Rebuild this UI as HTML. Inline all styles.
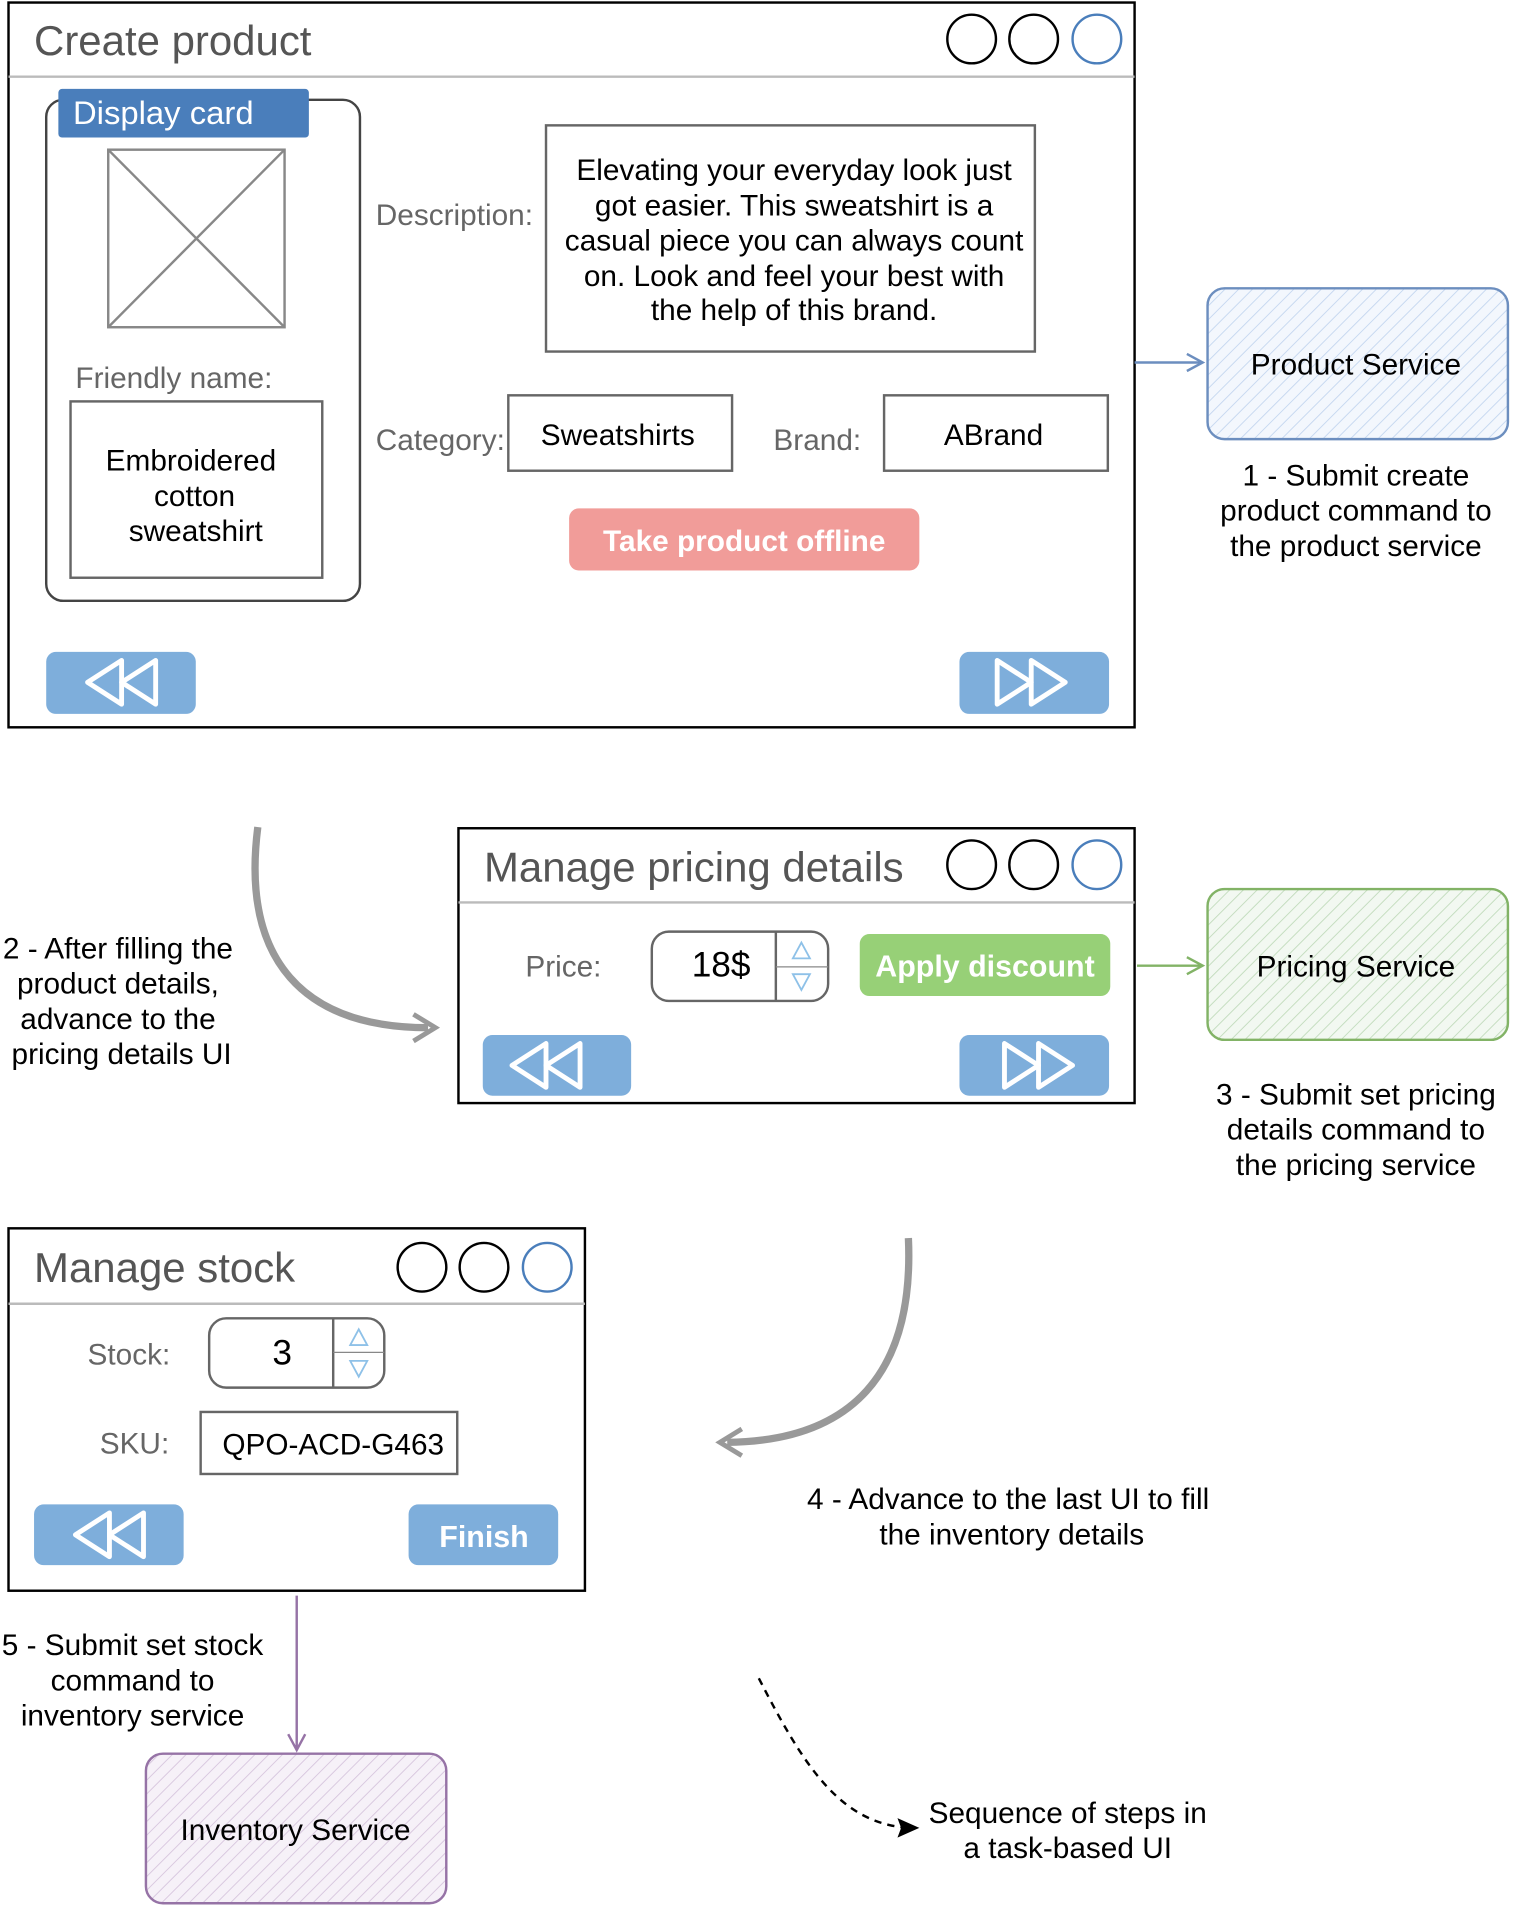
<!DOCTYPE html>
<html><head><meta charset="utf-8"><style>
html,body{margin:0;padding:0;background:#fff;}
svg{display:block;}
text{font-family:"Liberation Sans",sans-serif;}
</style></head><body>
<svg width="1514" height="1907" viewBox="0 0 1245 1568" xmlns="http://www.w3.org/2000/svg">
<defs>
<pattern id="hb" width="8" height="8" patternUnits="userSpaceOnUse" patternTransform="rotate(45)"><rect width="8" height="8" fill="#f3f7fd"/><line x1="0" y1="0" x2="0" y2="8" stroke="#c5d7f0" stroke-width="1.5"/></pattern>
<pattern id="hg" width="8" height="8" patternUnits="userSpaceOnUse" patternTransform="rotate(45)"><rect width="8" height="8" fill="#f2f8f1"/><line x1="0" y1="0" x2="0" y2="8" stroke="#c2dcbd" stroke-width="1.5"/></pattern>
<pattern id="hp" width="8" height="8" patternUnits="userSpaceOnUse" patternTransform="rotate(45)"><rect width="8" height="8" fill="#f6f1f8"/><line x1="0" y1="0" x2="0" y2="8" stroke="#d7c6de" stroke-width="1.5"/></pattern>
<g id="ff"><polygon points="-30,-18 -2,0 -30,18" fill="none" stroke="#fff" stroke-width="4" stroke-linejoin="round"/><polygon points="-2,-18 26,0 -2,18" fill="none" stroke="#fff" stroke-width="4" stroke-linejoin="round"/></g>
<g id="rw"><polygon points="30,-18 2,0 30,18" fill="none" stroke="#fff" stroke-width="4" stroke-linejoin="round"/><polygon points="2,-18 -26,0 2,18" fill="none" stroke="#fff" stroke-width="4" stroke-linejoin="round"/></g>
</defs>

<!-- Window 1 -->
<rect x="7" y="2" width="926" height="596" fill="#fff" stroke="#000" stroke-width="2"/>
<text x="28" y="45" font-size="34.5" fill="#555">Create product</text>
<line x1="7" y1="63" x2="933" y2="63" stroke="#bbb" stroke-width="2"/>
<circle cx="799" cy="32" r="20" fill="none" stroke="#000" stroke-width="2"/>
<circle cx="850" cy="32" r="20" fill="none" stroke="#000" stroke-width="2"/>
<circle cx="902" cy="32" r="20" fill="none" stroke="#4a7ebb" stroke-width="2"/>
<rect x="38" y="82" width="258" height="412" rx="14" fill="none" stroke="#444" stroke-width="2"/>
<rect x="48" y="73" width="206" height="40" rx="3" fill="#4a7ebb"/>
<text x="60" y="102" font-size="27" fill="#fff">Display card</text>
<rect x="89" y="123" width="145" height="146" fill="none" stroke="#888" stroke-width="2"/>
<line x1="89" y1="123" x2="234" y2="269" stroke="#888" stroke-width="2"/>
<line x1="234" y1="123" x2="89" y2="269" stroke="#888" stroke-width="2"/>
<text x="62" y="319" font-size="24.5" fill="#666">Friendly name:</text>
<rect x="58" y="330" width="207" height="145" fill="none" stroke="#666" stroke-width="2"/>
<g font-size="24.5" fill="#000" text-anchor="middle">
<text x="157" y="387">Embroidered</text><text x="160" y="416">cotton</text><text x="161" y="445">sweatshirt</text>
</g>
<text x="309" y="185" font-size="24.5" fill="#666">Description:</text>
<rect x="449" y="103" width="402" height="186" fill="none" stroke="#666" stroke-width="2"/>
<g font-size="24.5" fill="#000" text-anchor="middle">
<text x="653" y="148">Elevating your everyday look just</text>
<text x="653" y="177">got easier. This sweatshirt is a</text>
<text x="653" y="206">casual piece you can always count</text>
<text x="653" y="235">on. Look and feel your best with</text>
<text x="653" y="263">the help of this brand.</text>
</g>
<text x="309" y="370" font-size="24.5" fill="#666">Category:</text>
<rect x="418" y="325" width="184" height="62" fill="none" stroke="#666" stroke-width="2"/>
<text x="508" y="366" font-size="24.5" text-anchor="middle">Sweatshirts</text>
<text x="636" y="370" font-size="24.5" fill="#666">Brand:</text>
<rect x="727" y="325" width="184" height="62" fill="none" stroke="#666" stroke-width="2"/>
<text x="817" y="366" font-size="24.5" text-anchor="middle">ABrand</text>
<rect x="468" y="418" width="288" height="51" rx="8" fill="#f19c99"/>
<text x="612" y="453" font-size="24.5" font-weight="bold" fill="#fff" text-anchor="middle">Take product offline</text>
<rect x="38" y="536" width="123" height="51" rx="8" fill="#7eaedb"/>
<use href="#rw" x="98" y="561"/>
<rect x="789" y="536" width="123" height="51" rx="8" fill="#7eaedb"/>
<use href="#ff" x="850" y="561"/>

<line x1="933" y1="298" x2="988" y2="298" stroke="#6c8ebf" stroke-width="2"/>
<polyline points="976,291 989,298 976,305" fill="none" stroke="#6c8ebf" stroke-width="2"/>
<rect x="993" y="237" width="247" height="124" rx="14" fill="url(#hb)" stroke="#6c8ebf" stroke-width="2"/>
<text x="1115" y="308" font-size="24.5" text-anchor="middle">Product Service</text>
<g font-size="24.5" text-anchor="middle">
<text x="1115" y="399">1 - Submit create</text><text x="1115" y="428">product command to</text><text x="1115" y="457">the product service</text>
</g>

<!-- Curve 1 -->
<path d="M212,680 C198,790 250,845 352,845" fill="none" stroke="#999" stroke-width="6"/>
<polyline points="340,834 358,845 340,856" fill="none" stroke="#999" stroke-width="4"/>
<g font-size="24.5" text-anchor="middle">
<text x="97" y="788">2 - After filling the</text><text x="97" y="817">product details,</text><text x="97" y="846">advance to the</text><text x="100" y="875">pricing details UI</text>
</g>

<!-- Window 2 -->
<rect x="377" y="681" width="556" height="226" fill="#fff" stroke="#000" stroke-width="2"/>
<text x="398" y="725" font-size="34.5" fill="#555">Manage pricing details</text>
<line x1="377" y1="742" x2="933" y2="742" stroke="#bbb" stroke-width="2"/>
<circle cx="799" cy="711" r="20" fill="none" stroke="#000" stroke-width="2"/>
<circle cx="850" cy="711" r="20" fill="none" stroke="#000" stroke-width="2"/>
<circle cx="902" cy="711" r="20" fill="none" stroke="#4a7ebb" stroke-width="2"/>
<text x="432" y="803" font-size="24.5" fill="#666">Price:</text>
<rect x="536" y="766" width="145" height="57" rx="14" fill="none" stroke="#666" stroke-width="2"/>
<line x1="638" y1="766" x2="638" y2="823" stroke="#666" stroke-width="2"/>
<line x1="638" y1="795" x2="681" y2="795" stroke="#888" stroke-width="1"/>
<polygon points="659,775 652,788 666,788" fill="none" stroke="#8ec1e8" stroke-width="1.5"/>
<polygon points="659,814 652,801 666,801" fill="none" stroke="#8ec1e8" stroke-width="1.5"/>
<text x="593" y="803" font-size="29" text-anchor="middle">18$</text>
<rect x="707" y="768" width="206" height="51" rx="8" fill="#97d077"/>
<text x="810" y="803" font-size="25" font-weight="bold" fill="#fff" text-anchor="middle">Apply discount</text>
<rect x="397" y="851" width="122" height="50" rx="8" fill="#7eaedb"/>
<use href="#rw" x="447" y="876"/>
<rect x="789" y="851" width="123" height="50" rx="8" fill="#7eaedb"/>
<use href="#ff" x="856" y="876"/>

<line x1="935" y1="794" x2="988" y2="794" stroke="#82b366" stroke-width="2"/>
<polyline points="976,787 989,794 976,801" fill="none" stroke="#82b366" stroke-width="2"/>
<rect x="993" y="731" width="247" height="124" rx="14" fill="url(#hg)" stroke="#82b366" stroke-width="2"/>
<text x="1115" y="803" font-size="24.5" text-anchor="middle">Pricing Service</text>
<g font-size="24.5" text-anchor="middle">
<text x="1115" y="908">3 - Submit set pricing</text><text x="1115" y="937">details command to</text><text x="1115" y="966">the pricing service</text>
</g>

<!-- Window 3 -->
<rect x="7" y="1010" width="474" height="298" fill="#fff" stroke="#000" stroke-width="2"/>
<text x="28" y="1054" font-size="34.5" fill="#555">Manage stock</text>
<line x1="7" y1="1072" x2="481" y2="1072" stroke="#bbb" stroke-width="2"/>
<circle cx="347" cy="1042" r="20" fill="none" stroke="#000" stroke-width="2"/>
<circle cx="398" cy="1042" r="20" fill="none" stroke="#000" stroke-width="2"/>
<circle cx="450" cy="1042" r="20" fill="none" stroke="#4a7ebb" stroke-width="2"/>
<text x="72" y="1122" font-size="24.5" fill="#666">Stock:</text>
<rect x="172" y="1084" width="144" height="57" rx="14" fill="none" stroke="#666" stroke-width="2"/>
<line x1="274" y1="1084" x2="274" y2="1141" stroke="#666" stroke-width="2"/>
<line x1="274" y1="1112" x2="316" y2="1112" stroke="#888" stroke-width="1"/>
<polygon points="295,1093 288,1106 302,1106" fill="none" stroke="#8ec1e8" stroke-width="1.5"/>
<polygon points="295,1132 288,1119 302,1119" fill="none" stroke="#8ec1e8" stroke-width="1.5"/>
<text x="232" y="1122" font-size="29" text-anchor="middle">3</text>
<text x="82" y="1195" font-size="24.5" fill="#666">SKU:</text>
<rect x="165" y="1161" width="211" height="51" fill="none" stroke="#666" stroke-width="2"/>
<text x="274" y="1196" font-size="24.5" text-anchor="middle">QPO-ACD-G463</text>
<rect x="28" y="1237" width="123" height="50" rx="8" fill="#7eaedb"/>
<use href="#rw" x="88" y="1262"/>
<rect x="336" y="1237" width="123" height="50" rx="8" fill="#7eaedb"/>
<text x="398" y="1272" font-size="25" font-weight="bold" fill="#fff" text-anchor="middle">Finish</text>

<line x1="244" y1="1312" x2="244" y2="1438" stroke="#9673a6" stroke-width="2"/>
<polyline points="237,1426 244,1439 251,1426" fill="none" stroke="#9673a6" stroke-width="2"/>
<g font-size="24.5" text-anchor="middle">
<text x="109" y="1361">5 - Submit set stock</text><text x="109" y="1390">command to</text><text x="109" y="1419">inventory service</text>
</g>
<rect x="120" y="1442" width="247" height="123" rx="14" fill="url(#hp)" stroke="#9673a6" stroke-width="2"/>
<text x="243" y="1513" font-size="24.5" text-anchor="middle">Inventory Service</text>

<!-- Curve 2 -->
<path d="M747,1018 C752,1130 700,1185 598,1186" fill="none" stroke="#999" stroke-width="6"/>
<polyline points="610,1175 592,1186 610,1197" fill="none" stroke="#999" stroke-width="4"/>
<g font-size="24.5" text-anchor="middle">
<text x="829" y="1241">4 - Advance to the last UI to fill</text><text x="832" y="1270">the inventory details</text>
</g>

<!-- Legend -->
<path d="M624,1380 C660,1450 690,1500 748,1503" fill="none" stroke="#000" stroke-width="2" stroke-dasharray="6,5"/>
<polygon points="756,1503 738,1495 741,1503 738,1511" fill="#000"/>
<g font-size="24.5" text-anchor="middle">
<text x="878" y="1499">Sequence of steps in</text><text x="878" y="1528">a task-based UI</text>
</g>
</svg>
</body></html>
